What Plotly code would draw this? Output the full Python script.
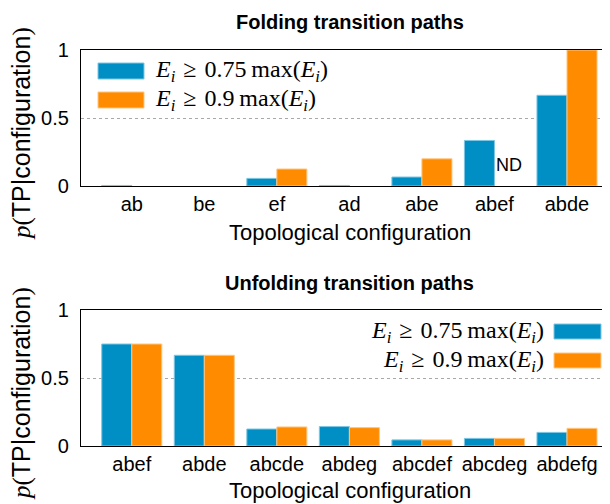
import plotly.graph_objects as go

# ---------------- data ----------------
fold_cats = ["ab", "be", "ef", "ad", "abe", "abef", "abde"]
fold_075 = [0.004, 0.0, 0.056, 0.004, 0.066, 0.335, 0.667]
fold_09 = [0.0, 0.0, 0.125, 0.0, 0.200, None, 1.0]   # None -> ND (not determined)

unfold_cats = ["abef", "abde", "abcde", "abdeg", "abcdef", "abcdeg", "abdefg"]
unfold_075 = [0.750, 0.667, 0.125, 0.143, 0.045, 0.056, 0.100]
unfold_09 = [0.750, 0.667, 0.140, 0.135, 0.045, 0.056, 0.130]

y_ticks = [0, 0.5, 1]
y_ticktext = ["0", "0.5", "1"]

titles = ["Folding transition paths", "Unfolding transition paths"]
xlabel = "Topological configuration"
ylabel = ("<span style='font-family:Liberation Serif'><i>p</i>(</span>TP|configuration"
          "<span style='font-family:Liberation Serif'>)</span>")
SP = "\u2004"
leg_labels = [
    "<i>E</i><sub><i>i</i></sub>" + SP + "≥" + SP + "0.75\u2009max(<i>E</i><sub><i>i</i></sub>)",
    "<i>E</i><sub><i>i</i></sub>" + SP + "≥" + SP + "0.9\u2009max(<i>E</i><sub><i>i</i></sub>)",
]

# ---------------- style ----------------
OFF = 8                      # page body offset
W, H = 610 - OFF, 504 - OFF
L = 81 - OFF
BLUE = "#008fc5"
BLUE_EDGE = "#7cc6e4"
ORANGE = "#ff8c00"
ORANGE_EDGE = "#ffc580"
SANS = "Liberation Sans"
SERIF = "Liberation Serif"
FS = 20


def fx(px):                  # reference pixel -> paper x
    return (px - OFF - L) / (W - L)


def fy(py):                  # reference pixel -> paper y
    return (H - (py - OFF)) / H


def widths(vals):
    return [1 if (v is not None and v > 0) else 0 for v in vals]


fig = go.Figure()
fig.add_bar(x=fold_cats, y=fold_075, xaxis="x", yaxis="y", showlegend=False,
            marker=dict(color=BLUE, line=dict(color=BLUE_EDGE, width=widths(fold_075))))
fig.add_bar(x=fold_cats, y=fold_09, xaxis="x", yaxis="y", showlegend=False,
            marker=dict(color=ORANGE, line=dict(color=ORANGE_EDGE, width=widths(fold_09))))
fig.add_bar(x=unfold_cats, y=unfold_075, xaxis="x2", yaxis="y2", showlegend=False,
            marker=dict(color=BLUE, line=dict(color=BLUE_EDGE, width=widths(unfold_075))))
fig.add_bar(x=unfold_cats, y=unfold_09, xaxis="x2", yaxis="y2", showlegend=False,
            marker=dict(color=ORANGE, line=dict(color=ORANGE_EDGE, width=widths(unfold_09))))

xcommon = dict(domain=[0, 1], range=[-0.7, 6.593], showline=True, mirror=True,
               linecolor="black", linewidth=1.3, ticks="", showgrid=False, automargin=False,
               tickfont=dict(family=SANS, size=FS, color="black"), ticklabelstandoff=0)
ycommon = dict(range=[0, 1], tickvals=y_ticks, ticktext=y_ticktext, showline=True,
               linecolor="black", linewidth=1.3, ticks="", showgrid=True, griddash="dot",
               gridcolor="#a8a8a8", gridwidth=1, zeroline=False, automargin=False,
               tickfont=dict(family=SANS, size=FS, color="black"), ticklabelstandoff=7)

fig.update_layout(
    width=W, height=H,
    margin=dict(l=L, r=0, t=0, b=0, autoexpand=False),
    paper_bgcolor="white", plot_bgcolor="white",
    barmode="group", bargap=0.172, bargroupgap=0,
    xaxis=dict(xcommon, anchor="y"),
    yaxis=dict(ycommon, domain=[fy(186), fy(50)], anchor="x"),
    xaxis2=dict(xcommon, anchor="y2"),
    yaxis2=dict(ycommon, domain=[fy(446), fy(310)], anchor="x2"),
)

ann = []
for t, py in zip(titles, [22, 283]):
    ann.append(dict(text="<b>" + t + "</b>", x=fx(349.5), y=fy(py), xref="paper", yref="paper",
                    xanchor="center", yanchor="middle", showarrow=False,
                    font=dict(family=SANS, size=FS, color="black")))
for py in [232, 490]:
    ann.append(dict(text=xlabel, x=fx(350), y=fy(py), xref="paper", yref="paper",
                    xanchor="center", yanchor="middle", showarrow=False,
                    font=dict(family=SANS, size=22, color="black")))
for py in [134, 394]:
    ann.append(dict(text=ylabel, x=fx(21), y=fy(py), xref="paper", yref="paper",
                    xanchor="center", yanchor="middle", showarrow=False, textangle=-90,
                    font=dict(family=SANS, size=25, color="black")))
ann.append(dict(text="ND", x=fold_cats[5], y=0, xref="x", yref="y", xshift=15, yshift=21,
                xanchor="center", yanchor="middle", showarrow=False,
                font=dict(family=SANS, size=18, color="black")))

shapes = []
for i, (col, edge) in enumerate([(BLUE, BLUE_EDGE), (ORANGE, ORANGE_EDGE)]):
    y0 = 63 + i * 29
    shapes.append(dict(type="rect", xref="paper", yref="paper", x0=fx(98), x1=fx(144),
                       y0=fy(y0 + 16), y1=fy(y0), fillcolor=col, line=dict(color=edge, width=1)))
    ann.append(dict(text=leg_labels[i], x=fx(153), y=fy(y0 + 8), xref="paper", yref="paper",
                    xanchor="left", yanchor="middle", showarrow=False,
                    font=dict(family=SERIF, size=24, color="black")))
for i, (col, edge) in enumerate([(BLUE, BLUE_EDGE), (ORANGE, ORANGE_EDGE)]):
    y0 = 324 + i * 29
    shapes.append(dict(type="rect", xref="paper", yref="paper", x0=fx(554), x1=fx(601),
                       y0=fy(y0 + 15), y1=fy(y0), fillcolor=col, line=dict(color=edge, width=1)))
    ann.append(dict(text=leg_labels[i], x=fx(546), y=fy(y0 + 8), xref="paper", yref="paper",
                    xanchor="right", yanchor="middle", showarrow=False,
                    font=dict(family=SERIF, size=24, color="black")))

fig.update_layout(annotations=ann, shapes=shapes)
fig.write_html("out.html")
